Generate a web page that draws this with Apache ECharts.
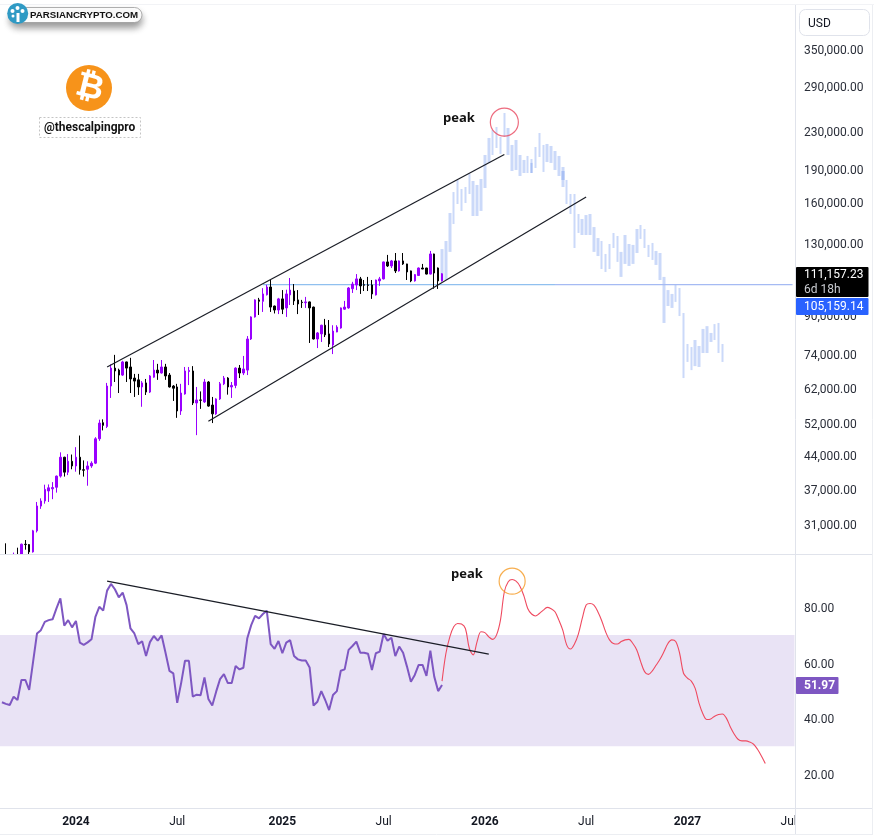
<!DOCTYPE html>
<html>
<head>
<meta charset="utf-8">
<title>BTCUSD weekly</title>
<style>
  html, body { margin: 0; padding: 0; background: #fff; }
  #chart { width: 874px; height: 837px; }
</style>
<script src="https://cdn.jsdelivr.net/npm/echarts@6/dist/echarts.min.js"></script>
</head>
<body>
<div id="chart"></div>
<script>
// Weekly buckets: the first one starts 2023-08-21, the axis runs into mid 2027.
const firstWeek = Date.UTC(2023, 7, 21);
const weekCount = 204;
const categories = Array.from({ length: weekCount }, (_, i) =>
  new Date(firstWeek + i * 7 * 864e5).toISOString().slice(0, 10));

// Time axis labels, keyed by the week they sit on.
const timeLabels = {
  '2024-01-01': '2024', '2024-07-01': 'Jul', '2025-01-06': '2025', '2025-07-07': 'Jul',
  '2026-01-05': '2026', '2026-07-06': 'Jul', '2027-01-04': '2027', '2027-07-05': 'Jul'
};

const priceTicks = [31000, 37000, 44000, 52000, 62000, 74000, 90000, 130000, 160000, 190000, 230000, 290000, 350000];
const rsiTicks = [20, 40, 60, 80];
const lastClose = 111157.23;
const priceLineLevel = 105159.14;
const rsiLast = 51.97;

// Weekly candles: [open, close, low, high]
const candles = [
  [26150,26050,25400,26500],[26050,25800,25350,28100],[25800,25780,25300,26450],[25780,26530,26500,26800],
  [26530,26250,26000,27480],[26250,27970,26050,28060],[27970,27920,27200,28580],[27920,26900,26530,28000],
  [26900,29950,26800,30100],[29950,34000,29700,34700],[33980,34880,33500,35350],[34880,37000,34400,37900],
  [36700,37300,34700,37950],[37100,37350,35200,38400],[37400,39600,36400,39700],[39600,43600,39300,44700],
  [43600,40400,39500,43700],[40400,42700,39800,44300],[42700,41700,41000,44200],[41700,43600,40500,45900],
  [43600,40900,39900,48700],[40900,40800,39500,42900],[41000,41700,37700,42700],[41700,42300,41300,42700],
  [42300,47900,42100,48300],[47900,51900,47400,52800],[52000,51300,50000,52900],[51000,62700,50600,63700],
  [62700,68700,59000,70000],[68700,67700,64000,73500],[68000,66300,60500,68500],[66300,70900,66000,71300],
  [70900,68700,64000,71000],[69100,65000,60500,72400],[65300,64300,59300,66700],[64700,62400,59900,66700],
  [62400,63700,56400,64300],[63700,60800,59900,65000],[60800,66000,60500,66300],[65600,68000,65400,71600],
  [68000,67000,64700,70200],[67000,69100,66800,71600],[69100,66000,64700,70200],[66300,62400,62200,67000],
  [62700,62000,58100,63000],[62400,55200,53300,63400],[55200,60500,54100,63400],[60200,67700,60000,69100],
  [67500,67900,63000,69100],[67700,57500,56900,69400],[57500,58400,48800,62400],[58400,58300,55800,61000],
  [57800,64000,57500,65000],[64000,56600,56400,64300],[56900,54400,51900,59300],[54400,58700,54100,58900],
  [58700,63400,58400,64000],[63400,65300,63000,66000],[65300,62400,60000,65600],[62400,62900,59000,64000],
  [62900,68700,62000,69000],[68700,67000,65300,69800],[67000,68400,66300,73100],[68000,79700,66300,80900],
  [79700,89200,79300,89500],[89200,97300,88900,97600],[97300,96600,90100,98300],[96600,100300,91500,103300],
  [99900,103900,99500,105100],[103900,93800,91500,107700],[94300,92400,90800,94500],[92400,97800,90500,98300],
  [97800,92800,90500,102300],[93400,100300,89200,102500],[99800,102300,94800,108800],[101800,96800,94800,105500],
  [97300,95300,90500,102300],[96200,96000,93400,97300],[95900,96300,93400,98800],[96300,93400,78100,96500],
  [93800,79700,79500,94000],[79700,82200,76100,82600],[81800,85500,78500,85700],[85500,81400,80500,88300],
  [81800,77700,76500,87800],[77300,83000,73800,85500],[82600,84700,82500,85500],[84300,93400,84000,93600],
  [92800,93800,92500,96800],[93400,103400,93000,103900],[103000,105500,100800,106700],[105000,108300,102300,111000],
  [108300,104500,100300,109400],[105100,104900,101800,107700],[105000,104800,101800,109400],[105000,100300,97800,107700],
  [99800,107700,99500,107900],[107200,108300,104500,109400],[108300,118100,108000,118300],[118100,115700,115100,122400],
  [115700,118700,114500,119300],[118700,112800,111600,123600],[112800,118700,112400,119000],[118700,116900,116300,123600],
  [116900,112200,107700,117000],[112800,107200,106500,113000],[107200,110700,106800,111000],[110200,114500,110000,114800],
  [114500,113900,113800,116900],[114500,111000,110800,114600],[111000,123000,110800,124900],[123000,111600,103000,123200],
  [114500,107200,102900,114800],[107200,lastClose,106900,111500]
];

// Projected weekly ranges that follow the last candle, from week 113 on.
const ghostStart = 113;
const ghostHigh = [
  126100,131400,151600,168700,179400,171300,173100,185000,178500,174900,180300,203800,222300,231500,235100,223400,252500,
  233900,214500,220000,203800,198700,202800,199700,212300,228000,214500,215600,213400,208000,202800,191700,179400,167000,
  167000,150800,147000,150000,150800,141100,133400,131400,123000,129400,136900,134800,124300,135500,129400,128800,139700,
  142600,139700,128800,130100,124900,123600,109400,102300,100300,105000,103400,91000,77700,76500,79300,76900,83900,85100,
  82200,86000,86500,77700
];
const ghostLow = [
  107700,107700,124300,143300,158700,153200,159500,167000,149300,149300,153200,172200,195700,203800,211200,204900,223400,
  203800,187800,188800,183100,185900,185900,185900,190700,201700,186900,196600,195700,188800,183100,173100,158700,150800,
  126800,136900,135500,135500,135500,124300,121700,113900,112200,113900,126800,118100,109400,116900,115700,116900,123600,
  132800,126800,121100,119300,116300,107700,86500,94300,93400,96300,89600,65300,70900,68000,69400,69100,74200,74200,
  78500,79300,74200,70900
];
// Two weeks where the projected range overlaps itself and prints darker: [week, high, low]
const ghostOverlap = [[136, 195700, 185900], [144, 187800, 179400]];

// RSI closes for the candles above.
const rsiValues = [
  45.8,45.2,44.8,47.8,46.6,53.8,53.8,50.2,60.4,70.5,71.7,74.7,75.3,75.6,79.5,83.1,73.3,75.3,72.7,75.0,
  67.2,66.4,67.3,68.4,76.5,80.1,78.7,85.9,88.3,86.4,83.5,85.2,80.7,72.3,70.5,66.7,67.7,62.4,67.4,69.6,
  67.9,69.8,63.6,57.1,56.2,45.6,52.6,60.7,60.7,47.8,48.5,48.3,54.7,47.0,44.6,49.6,54.1,55.9,52.7,52.7,
  58.8,57.6,58.2,68.8,73.5,76.8,75.9,77.5,78.7,66.7,65.0,67.8,63.4,67.2,68.1,62.4,61.2,60.8,60.8,58.3,
  44.6,46.0,49.8,46.6,43.0,48.4,49.8,57.1,57.6,64.6,66.0,67.6,63.6,63.6,63.2,57.4,63.4,64.0,70.3,67.9,
  69.0,62.4,65.8,63.6,58.6,53.2,55.6,59.2,59.2,55.3,64.3,55.0,49.8,rsiLast
];
// Projected RSI path, from week 113 on.
const rsiProjectionStart = 113;
const rsiProjection = [
  53.4,63.4,69.3,72.9,74.1,73.9,72.3,65.2,62.8,67.6,71.1,70.8,69.3,68.4,70.0,75.3,85.5,89.1,89.9,89.3,87.5,
  84.1,79.5,77.5,76.8,77.7,78.9,79.9,79.4,78.3,75.3,71.7,66.4,64.9,66.7,70.3,75.9,80.7,81.3,80.7,78.3,75.1,
  71.1,68.2,66.9,66.7,67.6,68.2,68.4,66.9,64.6,60.4,56.8,55.8,57.1,59.2,61.3,64.0,66.9,68.2,67.6,63.4,56.2,
  54.5,53.4,50.8,45.4,41.6,39.6,39.8,40.8,41.4,41.6,40.1,37.0,34.4,32.5,31.9,31.9,31.5,30.7,28.9,26.5,23.8
];

// Hand-drawn channel and trend lines: [week, value]
const channelUpper = [[27, 69100], [129, 204300]];
const channelLower = [[53, 52400], [150, 164500]];
const rsiTrend = [[27, 89.3], [125, 63.1]];
const priceLineFrom = 67, priceLineSplit = 142, priceLineTo = 203;
const priceCircle = [[129, 241000]];
const rsiCircle = [[131, 89.3]];

const UI_FONT = 'Roboto, sans-serif';
const AXIS_TEXT = '#2a2e39';
const PANE_LINE = '#e0e3eb';
const GHOST = '#cbd9f9';
const GHOST_DARK = '#a9c0f4';

const money = v => Number(v).toLocaleString('en-US', { minimumFractionDigits: 2, maximumFractionDigits: 2 });

const trend = (points, xAxisIndex, yAxisIndex, color, z) => ({
  type: 'line', data: points, xAxisIndex, yAxisIndex, symbol: 'none', silent: true, z: z || 6,
  lineStyle: { color: color || '#1a1d26', width: 1.2 }
});

const tag = (x, y, w, h, fill, r) => ({
  type: 'rect', shape: { x, y, width: w, height: h, r: r || 0 }, style: { fill }, z: 40
});
const txt = (x, y, text, font, fill, extra) => ({
  type: 'text', x, y, z: 41,
  style: Object.assign({ text, font, fill, verticalAlign: 'middle', align: 'left' }, extra || {})
});
const rule = (x1, y1, x2, y2, stroke) => ({
  type: 'line', shape: { x1, y1, x2, y2 }, style: { stroke: stroke || PANE_LINE, lineWidth: 1 }, z: 30
});

const chart = echarts.init(document.getElementById('chart'), null, { renderer: 'canvas' });

chart.setOption({
  animation: false,
  backgroundColor: '#ffffff',
  grid: [
    { left: 0, top: 0, width: 794.5, height: 554 },
    { left: 0, top: 555, width: 794.5, height: 253 }
  ],
  xAxis: [
    { type: 'category', gridIndex: 0, data: categories, show: false },
    {
      type: 'category', gridIndex: 1, data: categories,
      axisLine: { show: false }, axisTick: { show: false }, splitLine: { show: false },
      axisLabel: {
        margin: 8, color: '#131722', fontFamily: UI_FONT, fontSize: 12,
        interval: (i, v) => v in timeLabels,
        formatter: v => {
          const t = timeLabels[v] || '';
          return t === 'Jul' ? t : '{year|' + t + '}';
        },
        rich: { year: { fontWeight: 'bold', fontFamily: UI_FONT, fontSize: 12, color: '#131722' } }
      }
    }
  ],
  yAxis: [
    {
      type: 'log', logBase: 10, gridIndex: 0, position: 'right', min: 26610, max: 449400,
      axisLine: { show: false }, axisTick: { show: false }, splitLine: { show: false },
      axisLabel: {
        customValues: priceTicks, margin: 9.5, verticalAlign: 'top', lineHeight: 4,
        color: AXIS_TEXT, fontFamily: UI_FONT, fontSize: 12, formatter: money
      }
    },
    {
      type: 'value', gridIndex: 1, position: 'right', min: 7.8, max: 98.7,
      axisLine: { show: false }, axisTick: { show: false }, splitLine: { show: false },
      axisLabel: {
        customValues: rsiTicks, margin: 9.5, verticalAlign: 'top', lineHeight: 4,
        color: AXIS_TEXT, fontFamily: UI_FONT, fontSize: 12, formatter: v => Number(v).toFixed(2)
      }
    }
  ],
  series: [
    {
      type: 'candlestick', name: 'Projection', xAxisIndex: 0, yAxisIndex: 0, barWidth: 3, z: 2, silent: true,
      encode: { x: 0, y: [1, 2, 3, 4] },
      itemStyle: { color: GHOST, color0: GHOST, borderColor: GHOST, borderColor0: GHOST, borderWidth: 0 },
      data: ghostHigh.map((h, i) => [ghostStart + i, ghostLow[i], h, ghostLow[i], h])
    },
    {
      type: 'candlestick', name: 'Projection overlap', xAxisIndex: 0, yAxisIndex: 0, barWidth: 3, z: 3, silent: true,
      encode: { x: 0, y: [1, 2, 3, 4] },
      itemStyle: { color: GHOST_DARK, color0: GHOST_DARK, borderColor: GHOST_DARK, borderColor0: GHOST_DARK, borderWidth: 0 },
      data: ghostOverlap.map(([w, h, l]) => [w, l, h, l, h])
    },
    trend([[priceLineFrom, priceLineLevel], [priceLineSplit, priceLineLevel]], 0, 0, '#90c0ef', 4),
    trend([[priceLineSplit, priceLineLevel], [priceLineTo, priceLineLevel]], 0, 0, '#a5baf3', 4),
    {
      type: 'candlestick', name: 'BTCUSD', xAxisIndex: 0, yAxisIndex: 0, barWidth: 2, z: 5, silent: true,
      itemStyle: { color: '#9900ff', color0: '#000000', borderColor: '#9900ff', borderColor0: '#000000', borderWidth: 1 },
      data: candles
    },
    trend(channelUpper, 0, 0),
    trend(channelLower, 0, 0),
    {
      type: 'scatter', xAxisIndex: 0, yAxisIndex: 0, data: priceCircle, symbol: 'circle', symbolSize: 28, z: 7, silent: true,
      itemStyle: { color: 'rgba(0,0,0,0)', borderColor: '#e8465e', borderWidth: 1.2 }
    },
    {
      type: 'line', name: 'RSI', xAxisIndex: 1, yAxisIndex: 1, symbol: 'none', z: 5, silent: true,
      lineStyle: { color: '#7e57c2', width: 2 },
      data: rsiValues.map((v, i) => [i, v]),
      markArea: {
        silent: true, z: 1,
        itemStyle: { color: 'rgba(126,87,194,0.17)' },
        data: [[{ yAxis: 70 }, { yAxis: 30 }]]
      }
    },
    {
      type: 'line', name: 'RSI projection', xAxisIndex: 1, yAxisIndex: 1, symbol: 'none', smooth: 0.35, z: 4, silent: true,
      lineStyle: { color: '#ef4a60', width: 1.1 },
      data: rsiProjection.map((v, i) => [rsiProjectionStart + i, v])
    },
    trend(rsiTrend, 1, 1),
    {
      type: 'scatter', xAxisIndex: 1, yAxisIndex: 1, data: rsiCircle, symbol: 'circle', symbolSize: 26, z: 7, silent: true,
      itemStyle: { color: 'rgba(0,0,0,0)', borderColor: '#f59a23', borderWidth: 1.2 }
    }
  ],
  graphic: { elements: [
    // Candles that run past the bottom of the price pane stop at its edge
    { type: 'rect', shape: { x: 0, y: 555, width: 60, height: 22 }, style: { fill: '#ffffff' }, z: 20 },

    // Pane frame
    rule(0, 4.5, 874, 4.5, '#f2f3f6'),
    rule(795.5, 5, 795.5, 834),
    rule(0, 554.5, 872, 554.5),
    rule(0, 808.5, 872, 808.5),
    rule(872.5, 5, 872.5, 834, '#eceef2'),
    rule(0, 834.5, 873, 834.5, '#eceef2'),

    // Currency button
    { type: 'rect', shape: { x: 799.5, y: 9.5, width: 70, height: 26, r: 6 }, style: { fill: '#fff', stroke: PANE_LINE, lineWidth: 1 }, z: 31 },
    txt(808, 23.5, 'USD', '12px ' + UI_FONT, '#131722'),

    // Last price tags
    tag(796, 267, 72.5, 30, '#000000', 1),
    txt(804, 275, money(lastClose), '12px ' + UI_FONT, '#ffffff'),
    txt(804, 290, '6d 18h', '12px ' + UI_FONT, '#c9cbd1'),
    tag(796, 298, 72.5, 17, '#2962ff', 1),
    txt(804, 307, money(priceLineLevel), '12px ' + UI_FONT, '#ffffff'),
    tag(796, 677, 42.5, 17, '#7e57c2', 1),
    txt(804, 686, rsiLast.toFixed(2), 'bold 12px ' + UI_FONT, '#ffffff'),

    // Annotations
    txt(443, 118, 'peak', 'bold 13px "Open Sans", sans-serif', '#111111'),
    txt(451, 574, 'peak', 'bold 13px "Open Sans", sans-serif', '#111111'),

    // Site badge
    { type: 'rect', shape: { x: 10, y: 7.5, width: 132, height: 15, r: 7.5 },
      style: { fill: '#ffffff', stroke: '#9a9a9a', lineWidth: 0.8, shadowBlur: 7, shadowOffsetY: 5, shadowColor: 'rgba(0,0,0,0.4)' }, z: 32 },
    { type: 'circle', shape: { cx: 17.7, cy: 13.5, r: 10.5 }, style: { fill: '#2f9ac4' }, z: 33 },
    { type: 'rect', shape: { x: 16.5, y: 13, width: 3, height: 9 }, style: { fill: '#ffffff' }, z: 34 },
    { type: 'circle', shape: { cx: 12.5, cy: 11, r: 2 }, style: { fill: '#ffffff' }, z: 34 },
    { type: 'circle', shape: { cx: 17.5, cy: 8, r: 2 }, style: { fill: '#ffffff' }, z: 34 },
    { type: 'circle', shape: { cx: 22.5, cy: 11, r: 2 }, style: { fill: '#ffffff' }, z: 34 },
    { type: 'circle', shape: { cx: 13, cy: 16, r: 1.5 }, style: { fill: '#ffffff' }, z: 34 },
    txt(30, 15, 'PARSIANCRYPTO.COM', 'bold 9.7px "Liberation Sans", Arial, sans-serif', '#111111'),

    // Author mark
    { type: 'circle', shape: { cx: 89, cy: 88, r: 23 }, style: { fill: '#f7931a' }, z: 32 },
    { type: 'text', x: 89.5, y: 88.5, rotation: -14 * Math.PI / 180, z: 33,
      style: { text: '\u20BF', font: 'bold 34px "DejaVu Sans", sans-serif', fill: '#ffffff', align: 'center', verticalAlign: 'middle' } },
    { type: 'rect', shape: { x: 39.5, y: 117.5, width: 101, height: 20 }, style: { fill: '#ffffff', stroke: '#c4c4c4', lineWidth: 1, lineDash: [2, 2] }, z: 32 },
    txt(44, 128, '@thescalpingpro', 'bold 12px Roboto, sans-serif', '#111111')
  ] }
});
</script>
</body>
</html>
